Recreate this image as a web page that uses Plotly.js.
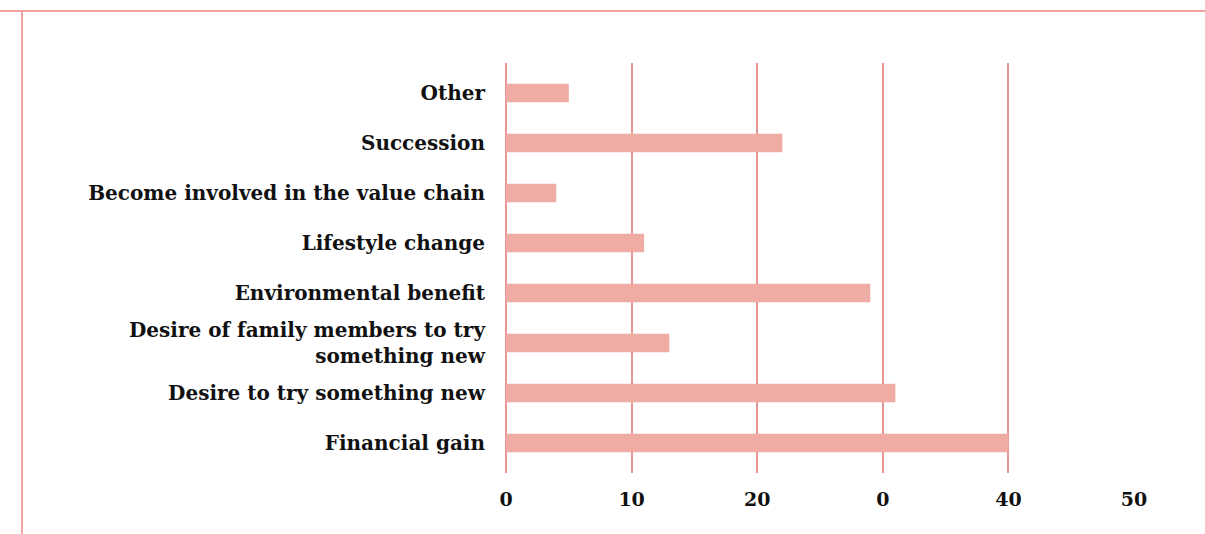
<!DOCTYPE html>
<html>
<head>
<meta charset="utf-8">
<script src="https://cdn.plot.ly/plotly-3.0.1.min.js"></script>
<style>html,body{margin:0;padding:0;background:#fff;}#chart{width:1205px;height:534px;}</style>
</head>
<body>
<div id="chart"></div>
<script>
var categories = [
  "Financial gain",
  "Desire to try something new",
  "Desire of family members to try<br>something new",
  "Environmental benefit",
  "Lifestyle change",
  "Become involved in the value chain",
  "Succession",
  "Other"
];
var values = [40, 31, 13, 29, 11, 4, 22, 5];
var tickValues = [0, 10, 20, 30, 40, 50];
var tickLabels = ["0", "10", "20", "0", "40", "50"];

var trace = {
  type: "bar",
  orientation: "h",
  y: categories,
  x: values,
  marker: {color: "#eeaca4"},
  hoverinfo: "x+y"
};

var layout = {
  width: 1205,
  height: 534,
  margin: {l: 506, r: 71, t: 63, b: 61},
  paper_bgcolor: "#ffffff",
  plot_bgcolor: "#ffffff",
  showlegend: false,
  bargap: 0.63,
  font: {family: "DejaVu Serif", color: "#111111"},
  xaxis: {
    range: [0, 50],
    tickvals: tickValues,
    ticktext: tickLabels,
    showgrid: true,
    gridcolor: "#ea9494",
    gridwidth: 2,
    zeroline: true,
    zerolinecolor: "#ea9494",
    zerolinewidth: 2,
    showline: false,
    ticks: "",
    ticklabelstandoff: 13,
    tickfont: {family: "DejaVu Serif", size: 19, color: "#111111", weight: "bold"},
    fixedrange: true
  },
  yaxis: {
    type: "category",
    categoryorder: "array",
    categoryarray: categories,
    range: [-0.6, 7.6],
    showgrid: false,
    zeroline: false,
    showline: false,
    ticks: "",
    ticklabelstandoff: 20,
    tickfont: {family: "DejaVu Serif", size: 20, color: "#111111", weight: "bold"},
    fixedrange: true
  },
  shapes: [
    {type: "line", xref: "paper", yref: "paper", x0: -506/628, x1: 1.2, y0: 1 + 52/410, y1: 1 + 52/410,
     line: {color: "#f2a0a0", width: 2}},
    {type: "line", xref: "paper", yref: "paper", x0: -484/628, x1: -484/628, y0: 1 + 52/410, y1: -0.3,
     line: {color: "#f2a0a0", width: 2}}
  ]
};

Plotly.newPlot("chart", [trace], layout, {displayModeBar: false, staticPlot: true});
</script>
</body>
</html>
